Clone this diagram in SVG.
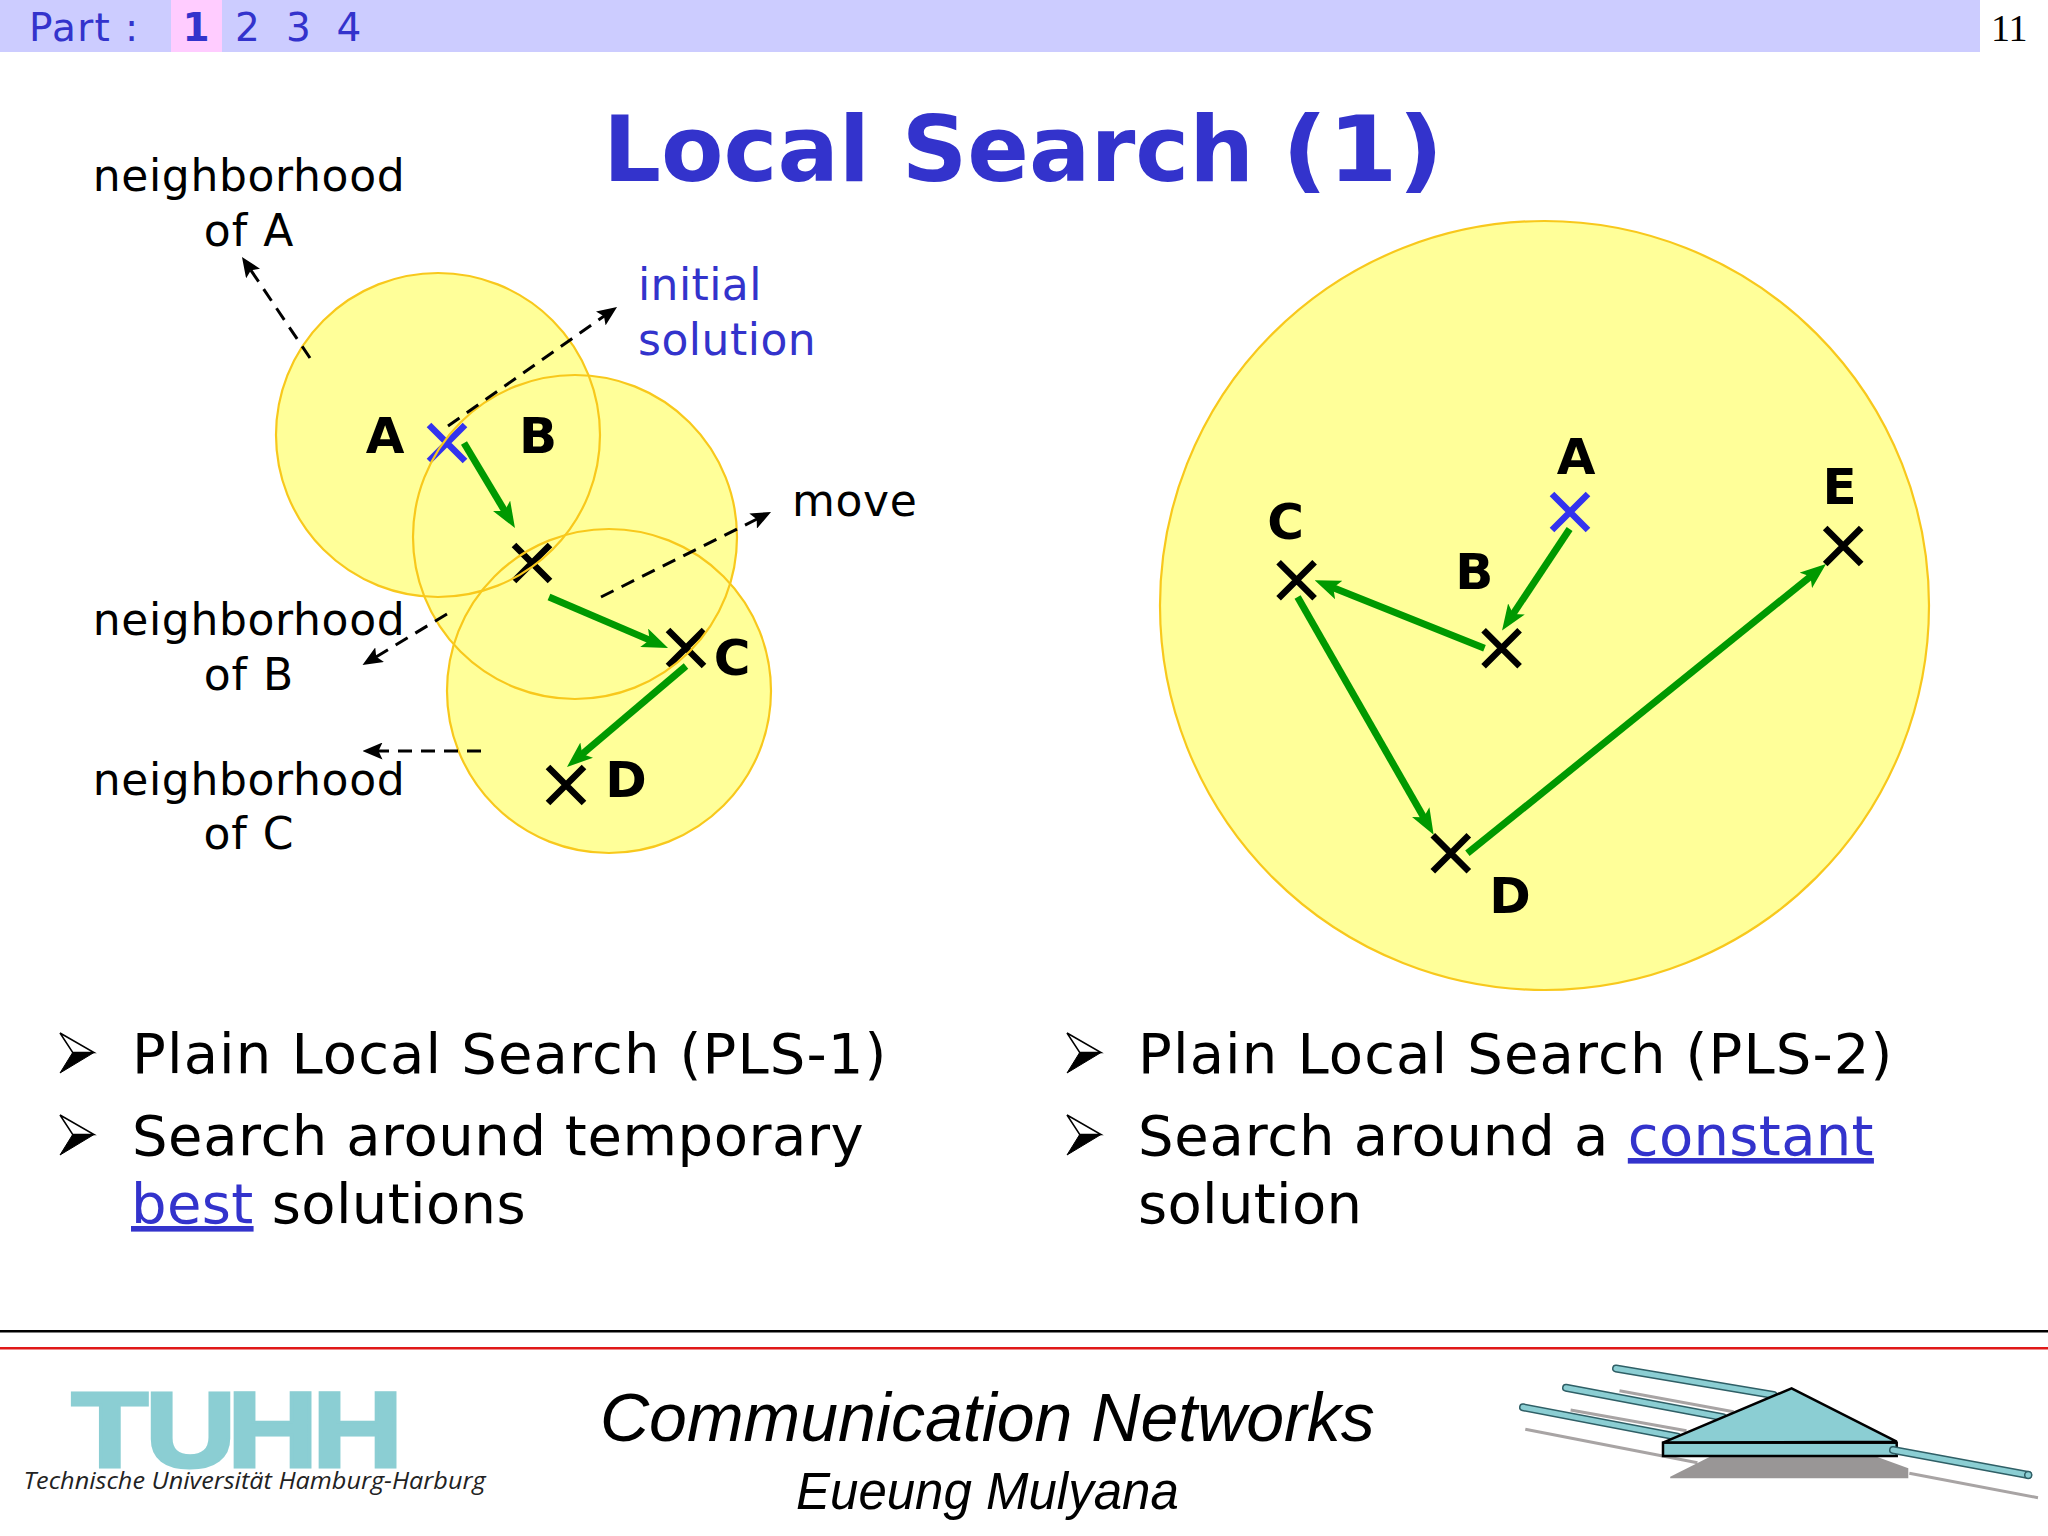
<svg xmlns="http://www.w3.org/2000/svg" width="2048" height="1536" viewBox="0 0 2048 1536">
<style>
text{font-family:"DejaVu Sans","Liberation Sans",sans-serif}
.lab{font-size:44px;fill:#000}
.blue{fill:#3333cc}
.pt{font-weight:bold;font-size:50px;fill:#000;text-anchor:middle}
.bul{font-size:56px;fill:#000}
.hd{font-size:39px;fill:#3333cc}
.mid{text-anchor:middle}
.foot{font-family:"Liberation Sans",Arial,sans-serif;font-style:italic;fill:#000}
.fill{fill:#ffff99;stroke:none}
.ring{fill:none;stroke:#f8c81c;stroke-width:2.2}
.x{fill:none;stroke:#000;stroke-width:6.5}
.xb{fill:none;stroke:#3333ee;stroke-width:6.5}
.mv{fill:none;stroke:#009900;stroke-width:7;marker-end:url(#g)}
.ds{fill:none;stroke:#000;stroke-width:3;stroke-dasharray:14 9;marker-end:url(#k)}
.rodo{stroke:#2f5f66;stroke-width:8;stroke-linecap:round}
.rodi{stroke:#8bced3;stroke-width:5;stroke-linecap:round}
.sh{stroke:#a8a4a4;stroke-width:3}
.ant{fill:#8bced3;stroke:#000;stroke-width:2.5}
</style>
<defs>
<marker id="g" markerUnits="userSpaceOnUse" markerWidth="26" markerHeight="20" viewBox="0 0 26 20" refX="8" refY="10" orient="auto"><path d="M0,0L26,10L0,20L6,10z" fill="#009900"/></marker>
<marker id="k" markerUnits="userSpaceOnUse" markerWidth="20" markerHeight="17" viewBox="0 0 20 17" refX="6" refY="8.500" orient="auto"><path d="M0,0L20,8.500L0,17L4,8.500z" fill="#000"/></marker>
<g id="bullet"><path d="M0,0L34,19.500L12.700,19.500z" fill="#fff" stroke="#000" stroke-width="1.500"/><path d="M0,40L34,19.500L12.700,19.500z" fill="#000" stroke="#000" stroke-width="1"/></g>
<path id="cross" d="M-18,-18L18,18M18,-18L-18,18"/>
</defs>
<rect width="2048" height="1536" fill="#fff"/>

<g id="header">
<rect x="0" y="0" width="1980" height="52" fill="#ccccff"/>
<rect x="171" y="0" width="51" height="52" fill="#ffccff"/>
<text class="hd" x="29" y="41" letter-spacing="1.300">Part :</text>
<text class="hd mid" x="196" y="41" font-weight="bold">1</text>
<text class="hd mid" x="247.500" y="41">2</text>
<text class="hd mid" x="298.500" y="41">3</text>
<text class="hd mid" x="349" y="41">4</text>
<text x="1991" y="41" style="font-family:'Liberation Serif',serif;font-size:38px" fill="#000">11</text>
</g>

<text id="title" x="603" y="181" font-size="91" font-weight="bold" fill="#3333cc">Local Search <tspan dx="-4" textLength="162" lengthAdjust="spacingAndGlyphs">(1)</tspan></text>

<g id="neighborhood-fills">
<circle class="fill" cx="438" cy="435" r="162"/>
<circle class="fill" cx="575" cy="537" r="162"/>
<circle class="fill" cx="609" cy="691" r="162"/>
<circle class="fill" cx="1544.500" cy="605.500" r="384.500"/>
</g>

<g id="left-points">
<g id="pt-A"><use href="#cross" class="xb" x="447" y="443"/><text class="pt" x="385" y="453">A</text></g>
<g id="pt-B"><use href="#cross" class="x" x="532" y="563"/><text class="pt" x="538" y="453">B</text></g>
<g id="pt-C"><use href="#cross" class="x" x="686" y="648"/><text class="pt" x="732" y="675">C</text></g>
<g id="pt-D"><use href="#cross" class="x" x="566" y="785"/><text class="pt" x="626" y="797">D</text></g>
</g>

<g id="neighborhood-rings">
<circle id="nbh-A" class="ring" cx="438" cy="435" r="162"/>
<circle id="nbh-B" class="ring" cx="575" cy="537" r="162"/>
<circle id="nbh-C" class="ring" cx="609" cy="691" r="162"/>
<circle id="nbh-all" class="ring" cx="1544.500" cy="605.500" r="384.500"/>
</g>

<g id="right-points">
<g id="r-A"><use href="#cross" class="xb" x="1570" y="512"/><text class="pt" x="1576" y="473.500">A</text></g>
<g id="r-B"><use href="#cross" class="x" x="1501.600" y="648.300"/><text class="pt" x="1474.400" y="589.300">B</text></g>
<g id="r-C"><use href="#cross" class="x" x="1296.600" y="580.300"/><text class="pt" x="1285.500" y="539">C</text></g>
<g id="r-D"><use href="#cross" class="x" x="1450.800" y="853.300"/><text class="pt" x="1510" y="913">D</text></g>
<g id="r-E"><use href="#cross" class="x" x="1843.200" y="546"/><text class="pt" x="1839.700" y="503.700">E</text></g>
</g>

<g id="connectors">
<path class="mv" d="M464,443L505.700,512.600"/>
<path class="mv" d="M549,597L651.500,640.900"/>
<path class="mv" d="M686,666L580.700,755.300"/>
<path class="mv" d="M1569.600,529L1512,615.600"/>
<path class="mv" d="M1484.500,648.300L1331.400,587"/>
<path class="mv" d="M1297.600,597L1424.700,819.100"/>
<path class="mv" d="M1467.400,853.300L1812,575.300"/>
<path class="ds" d="M310,358L249.800,268.600"/>
<path class="ds" d="M448,426L605.600,315"/>
<path class="ds" d="M601,597L758.500,518.300"/>
<path class="ds" d="M447,614L374.500,657.800"/>
<path class="ds" d="M481,751L376.500,751"/>
</g>

<g id="labels">
<text class="lab mid" x="249" y="191" letter-spacing="0.650">neighborhood</text>
<text class="lab mid" x="249" y="246" letter-spacing="1">of A</text>
<text class="lab blue" x="638" y="300" letter-spacing="0.400">initial</text>
<text class="lab blue" x="638" y="355" letter-spacing="0.500">solution</text>
<text class="lab" x="792" y="516" letter-spacing="0.650">move</text>
<text class="lab mid" x="249" y="635" letter-spacing="0.650">neighborhood</text>
<text class="lab mid" x="249" y="690" letter-spacing="1">of B</text>
<text class="lab mid" x="249" y="795" letter-spacing="0.650">neighborhood</text>
<text class="lab mid" x="249" y="849" letter-spacing="1">of C</text>
</g>

<g id="bullets-left">
<use href="#bullet" x="60" y="1033"/>
<use href="#bullet" x="60" y="1115"/>
<text class="bul" x="132" y="1073" letter-spacing="1.150">Plain Local Search (PLS-1)</text>
<text class="bul" x="132" y="1155" letter-spacing="0.570">Search around temporary</text>
<text class="bul" x="131" y="1223" letter-spacing="0.360"><tspan class="blue" text-decoration="underline">best</tspan> solutions</text>
</g>
<g id="bullets-right">
<use href="#bullet" x="1067" y="1033"/>
<use href="#bullet" x="1067" y="1115"/>
<text class="bul" x="1138" y="1073" letter-spacing="1.150">Plain Local Search (PLS-2)</text>
<text class="bul" x="1138" y="1155" letter-spacing="0.800">Search around a <tspan class="blue" text-decoration="underline" letter-spacing="0.330">constant</tspan></text>
<text class="bul" x="1138" y="1223" letter-spacing="0.330">solution</text>
</g>

<g id="footer">
<rect x="0" y="1330" width="2048" height="2.500" fill="#000"/>
<rect x="0" y="1347" width="2048" height="2.500" fill="#e01818"/>
<text transform="translate(71.200,1466.500) scale(1.18,1)" x="0 62.500 132 204" y="0" font-size="107" font-weight="bold" style="font-family:'Liberation Sans',sans-serif" fill="#8bced3" stroke="#8bced3" stroke-width="3">TUHH</text>
<text x="23.500" y="1489" font-size="24" textLength="462" lengthAdjust="spacingAndGlyphs" style="font-family:'Open Sans','Liberation Sans',sans-serif;font-style:italic" fill="#222">Technische Universität Hamburg-Harburg</text>
<text class="foot" x="600" y="1440.500" font-size="68">Communication Networks</text>
<text class="foot" x="796" y="1509" font-size="51">Eueung Mulyana</text>
</g>

<g id="antenna">
<line class="sh" x1="1619.500" y1="1390.700" x2="1733.600" y2="1411.700"/>
<line class="sh" x1="1570.600" y1="1410" x2="1686.500" y2="1430.700"/>
<line class="sh" x1="1525.300" y1="1429.300" x2="1697.400" y2="1462.700"/>
<line class="sh" x1="1909.300" y1="1473.300" x2="2038" y2="1497.700"/>
<line class="rodo" x1="1616" y1="1368.500" x2="1773.500" y2="1395"/>
<line class="rodi" x1="1616" y1="1368.500" x2="1773.500" y2="1395"/>
<line class="rodo" x1="1566" y1="1387.800" x2="1722.800" y2="1417.300"/>
<line class="rodi" x1="1566" y1="1387.800" x2="1722.800" y2="1417.300"/>
<line class="rodo" x1="1523" y1="1407.300" x2="1677.500" y2="1436.700"/>
<line class="rodi" x1="1523" y1="1407.300" x2="1677.500" y2="1436.700"/>
<path d="M1670.200,1476.700L1710,1456.700L1876.700,1456.700L1908.300,1468.300L1908.300,1478.300L1670.200,1478.300z" fill="#999696"/>
<path class="ant" d="M1663,1442.700L1791.600,1388.300L1896.700,1441.700z"/>
<rect class="ant" x="1663" y="1442.700" width="233.700" height="13.300"/>
<line class="rodo" x1="1893" y1="1450" x2="2028.200" y2="1475"/>
<line class="rodi" x1="1893" y1="1450" x2="2028.200" y2="1475"/>
<circle cx="2028.200" cy="1475" r="3.500" fill="#8bced3" stroke="#2f5f66" stroke-width="1.500"/>
</g>
</svg>
